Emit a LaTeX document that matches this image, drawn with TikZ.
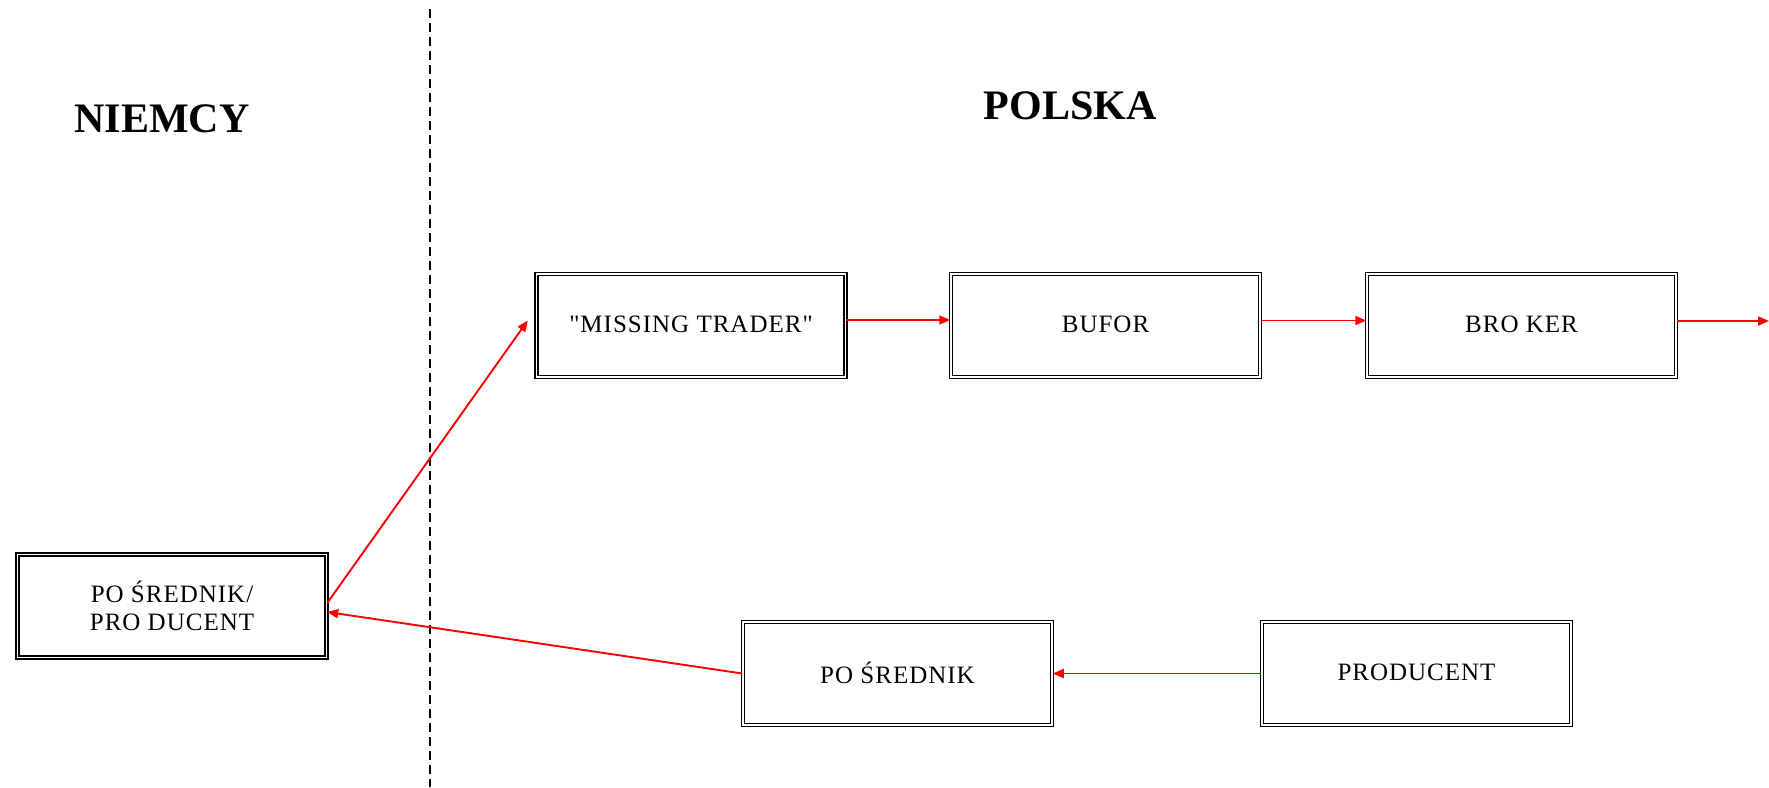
\documentclass[tikz,border=0pt]{standalone}
\usepackage{fontspec}
\setmainfont{Liberation Serif}
\newfontfamily\boxfont[LetterSpace=4]{Liberation Serif}
\usetikzlibrary{arrows.meta,calc}
\begin{document}
\begin{tikzpicture}[x=1pt,y=-1pt,
  boxnode/.style={draw, line width=1.5pt, double, double distance=1.4pt, minimum width=309pt, minimum height=103pt, inner sep=0pt, font=\boxfont\fontsize{25}{28}\selectfont, align=center},
  flow/.style={draw=red, line width=1.9pt, -{Triangle[length=11pt,width=9pt]}},
  title/.style={font=\fontsize{42}{46}\selectfont\bfseries},
  divider/.style={line width=2.5pt, dash pattern=on 9pt off 5pt}
]
\useasboundingbox[fill=white] (0,0) rectangle (1769,787);

\node[title] (niemcy) at (162,119) {NIEMCY};
\node[title] (polska) at (1070,106) {POLSKA};

\coordinate (dtop) at (430,9);
\coordinate (dbot) at (430,787);
\draw[divider] (dtop) -- (dbot);

\node[boxnode] (mt) at (691,325.5) {\raisebox{3pt}{\symbol{34}MISSING TRADER\symbol{34}}};
\node[boxnode] (bufor) at (1105.5,325.5) {\raisebox{3pt}{BUFOR}};
\node[boxnode] (broker) at (1521.5,325.5) {\raisebox{3pt}{BRO KER}};
\node[boxnode] (pp) at (172,606) {PO ŚREDNIK/\\PRO DUCENT};
\node[boxnode] (posr) at (897.5,673.5) {\raisebox{2pt}{PO ŚREDNIK}};
\node[boxnode] (prod) at (1416.5,673.5) {\raisebox{2pt}{PRODUCENT}};

\coordinate (out) at (1769,321);

\draw[flow] ([yshift=5.5pt]mt.east) -- ([yshift=5.5pt]bufor.west);
\draw[flow] ([yshift=5pt]bufor.east) -- ([yshift=5pt]broker.west);
\draw[flow] ([yshift=4.5pt]broker.east) -- (out);
\draw[flow] ([yshift=3pt]pp.east) -- ([yshift=5pt,xshift=-8pt]mt.west);
\draw[flow] (posr.west) -- ([yshift=-6pt]pp.east);
\draw[flow] (prod.west) -- (posr.east);
\end{tikzpicture}
\end{document}
